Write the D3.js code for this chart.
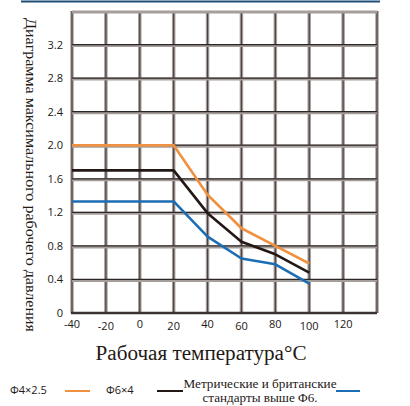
<!DOCTYPE html>
<html>
<head>
<meta charset="utf-8">
<script src="https://cdn.jsdelivr.net/npm/d3@7"></script>
<style>
  body { margin: 0; background: #fff; }
  svg { display: block; }
</style>
</head>
<body>
<svg id="chart" width="410" height="406"></svg>
<script>
const temps = [-40, 20, 40, 60, 80, 100];
const phi4 = [2.0, 2.0, 1.41, 1.01, 0.8, 0.59];
const phi6 = [1.7, 1.7, 1.19, 0.85, 0.7, 0.48];
const above6 = [1.33, 1.33, 0.91, 0.65, 0.58, 0.35];
const xTicks = [-40, -20, 0, 20, 40, 60, 80, 100, 120];
const yTicks = [0, 0.4, 0.8, 1.2, 1.6, 2.0, 2.4, 2.8, 3.2];

const color = {
  phi4: "#f0913f",
  phi6: "#231815",
  above6: "#1b6db5",
};

const svg = d3.select("#chart");

// thin blue rule on top
svg.append("line")
  .attr("x1", 21).attr("x2", 380)
  .attr("y1", 1.5).attr("y2", 1.5)
  .style("stroke", "#1f4e79")
  .style("stroke-width", 2);

const x = d3.scaleLinear().domain([-40, 140]).range([72, 377]);
const y = d3.scaleLinear().domain([0, 3.6]).range([313, 11]);

const grid = svg.append("g");

// vertical grid, wide grey with dark core
const vx = d3.range(-40, 141, 20);
grid.selectAll(".vs").data(vx).join("line")
  .attr("x1", d => x(d)).attr("x2", d => x(d))
  .attr("y1", y(3.6)).attr("y2", y(0))
  .style("stroke", "#a69e9b").style("stroke-width", 3.5);
grid.selectAll(".vc").data(vx).join("line")
  .attr("x1", d => x(d)).attr("x2", d => x(d))
  .attr("y1", y(3.6)).attr("y2", y(0))
  .style("stroke", "#4a4341").style("stroke-width", 1.2);

// horizontal grid
const hy = d3.range(0.4, 3.61, 0.4);
grid.selectAll(".hs").data(hy).join("line")
  .attr("x1", x(-40)).attr("x2", x(140))
  .attr("y1", d => y(d) + 1).attr("y2", d => y(d) + 1)
  .style("stroke", "#a69e9b").style("stroke-width", 3);
grid.selectAll(".hc").data(hy.slice(0, 8)).join("line")
  .attr("x1", x(-40)).attr("x2", x(140))
  .attr("y1", d => y(d)).attr("y2", d => y(d))
  .style("stroke", "#2c2624").style("stroke-width", 1.3);

// x axis base line
svg.append("line")
  .attr("x1", x(-40) - 1).attr("x2", x(140))
  .attr("y1", y(0)).attr("y2", y(0))
  .style("stroke", "#3a3331").style("stroke-width", 2.5);

// series
const line = d3.line().x(d => x(d[0])).y(d => y(d[1]));
const series = [
  [above6, color.above6],
  [phi6, color.phi6],
  [phi4, color.phi4],
];
series.forEach(function (s) {
  svg.append("path")
    .datum(temps.map((t, i) => [t, s[0][i]]))
    .attr("d", line)
    .style("fill", "none")
    .style("stroke", s[1])
    .style("stroke-width", 2.6)
    .style("stroke-linejoin", "round");
});

// tick labels
const tickFont = "'Open Sans', 'Noto Sans', sans-serif";
const serif = "'Liberation Serif', 'DejaVu Serif', serif";
svg.append("g").selectAll("text").data(yTicks).join("text")
  .attr("x", 63).attr("y", d => y(d) + 4)
  .attr("text-anchor", "end")
  .style("font-family", tickFont).style("font-size", "11px").style("fill", "#231815")
  .text(d => d === 0 ? "0" : d.toFixed(1));

svg.append("g").selectAll("text").data(xTicks).join("text")
  .attr("x", d => x(d)).attr("y", (d, i) => i % 2 ? 330 : 328)
  .attr("text-anchor", "middle")
  .style("font-family", tickFont).style("font-size", "11px").style("fill", "#231815")
  .text(d => d);

// axis titles
svg.append("text")
  .attr("transform", "translate(26,18) rotate(90)")
  .attr("textLength", 314).attr("lengthAdjust", "spacingAndGlyphs")
  .style("font-family", serif).style("font-size", "14.5px").style("fill", "#231815")
  .text("Диаграмма максимального рабочего давления");

svg.append("text")
  .attr("x", 201).attr("y", 360)
  .attr("text-anchor", "middle")
  .attr("textLength", 211).attr("lengthAdjust", "spacingAndGlyphs")
  .style("font-family", serif).style("font-size", "20px").style("fill", "#231815")
  .text("Рабочая температура°C");

// legend
const leg = svg.append("g");
leg.append("text").attr("x", 10).attr("y", 394)
  .style("font-family", tickFont).style("font-size", "11px").style("fill", "#231815")
  .text("Φ4×2.5");
leg.append("line").attr("x1", 65).attr("x2", 90).attr("y1", 391).attr("y2", 391)
  .style("stroke", color.phi4).style("stroke-width", 2);
leg.append("text").attr("x", 106).attr("y", 394)
  .style("font-family", tickFont).style("font-size", "11px").style("fill", "#231815")
  .text("Φ6×4");
leg.append("line").attr("x1", 157).attr("x2", 183).attr("y1", 391).attr("y2", 391)
  .style("stroke", color.phi6).style("stroke-width", 2);
leg.append("text").attr("x", 260).attr("y", 388).attr("text-anchor", "middle")
  .attr("textLength", 153).attr("lengthAdjust", "spacingAndGlyphs")
  .style("font-family", serif).style("font-size", "13px").style("fill", "#231815")
  .text("Метрические и британские");
leg.append("text").attr("x", 260).attr("y", 402).attr("text-anchor", "middle")
  .attr("textLength", 115).attr("lengthAdjust", "spacingAndGlyphs")
  .style("font-family", serif).style("font-size", "13px").style("fill", "#231815")
  .text("стандарты выше Φ6.");
leg.append("line").attr("x1", 336).attr("x2", 360).attr("y1", 391).attr("y2", 391)
  .style("stroke", color.above6).style("stroke-width", 2);
</script>
</body>
</html>
